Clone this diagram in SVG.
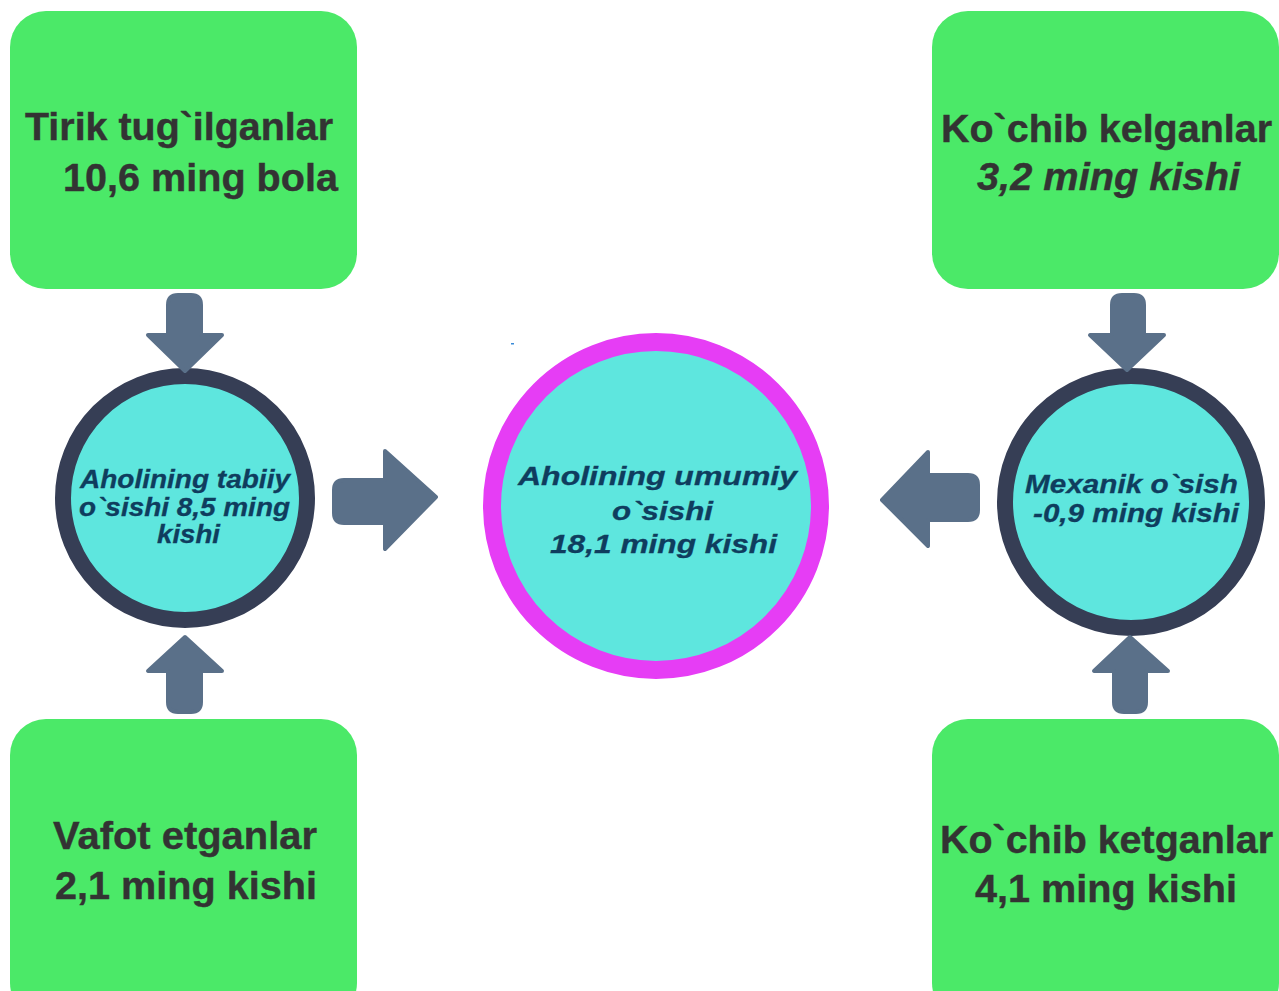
<svg xmlns="http://www.w3.org/2000/svg" width="1279" height="991" viewBox="0 0 1279 991">
<style>
.box{fill:#4BE968;}
.bt{font-family:"Liberation Sans",Arial,sans-serif;font-weight:bold;font-size:39px;fill:#333333;stroke:#333333;stroke-width:0.4;}
.ring{fill:#5EE6DE;stroke:#363E55;stroke-width:16;}
.ringc{fill:#5EE6DE;stroke:#E63DF5;stroke-width:18;}
.ct{font-family:"Liberation Sans",Arial,sans-serif;font-weight:bold;font-style:italic;font-size:26px;fill:#0F3D5E;stroke:#0F3D5E;stroke-width:0.3;}
.arr{fill:#5A7089;stroke:#5A7089;stroke-width:4;stroke-linejoin:round;}
</style>
<rect width="1279" height="991" fill="#ffffff"/>
<g id="birth">
<rect class="box" x="10" y="11" width="347" height="278" rx="36"/>
<text class="bt" x="25" y="140" textLength="308" lengthAdjust="spacingAndGlyphs">Tirik tug`ilganlar</text>
<text class="bt" x="63" y="191" textLength="275" lengthAdjust="spacingAndGlyphs">10,6 ming bola</text>
</g>
<g id="immig">
<rect class="box" x="932" y="11" width="347" height="278" rx="36"/>
<text class="bt" x="941" y="142" textLength="331" lengthAdjust="spacingAndGlyphs">Ko`chib kelganlar</text>
<text class="bt" x="977" y="190" font-style="italic" textLength="263" lengthAdjust="spacingAndGlyphs">3,2 ming kishi</text>
</g>
<g id="death">
<rect class="box" x="10" y="719" width="347" height="300" rx="36"/>
<text class="bt" x="53" y="849" textLength="264" lengthAdjust="spacingAndGlyphs">Vafot etganlar</text>
<text class="bt" x="55" y="899" textLength="262" lengthAdjust="spacingAndGlyphs">2,1 ming kishi</text>
</g>
<g id="emig">
<rect class="box" x="932" y="719" width="347" height="300" rx="36"/>
<text class="bt" x="940" y="853" textLength="333" lengthAdjust="spacingAndGlyphs">Ko`chib ketganlar</text>
<text class="bt" x="975" y="902" textLength="262" lengthAdjust="spacingAndGlyphs">4,1 ming kishi</text>
</g>
<g id="natural">
<circle class="ring" cx="185" cy="498" r="122"/>
<text class="ct" x="80" y="488" textLength="210" lengthAdjust="spacingAndGlyphs">Aholining tabiiy</text>
<text class="ct" x="79" y="516" textLength="211" lengthAdjust="spacingAndGlyphs">o`sishi 8,5 ming</text>
<text class="ct" x="157" y="543" textLength="63" lengthAdjust="spacingAndGlyphs">kishi</text>
</g>
<g id="total">
<circle class="ringc" cx="656" cy="506" r="164"/>
<text class="ct" font-size="30" x="518" y="485" textLength="279" lengthAdjust="spacingAndGlyphs">Aholining umumiy</text>
<text class="ct" font-size="30" x="612" y="520" textLength="101" lengthAdjust="spacingAndGlyphs">o`sishi</text>
<text class="ct" font-size="30" x="550" y="553" textLength="227" lengthAdjust="spacingAndGlyphs">18,1 ming kishi</text>
<rect x="511" y="343" width="3" height="1.5" fill="#3A8BD8"/>
</g>
<g id="mech">
<circle class="ring" cx="1131" cy="502" r="126"/>
<text class="ct" x="1025" y="493" textLength="213" lengthAdjust="spacingAndGlyphs">Mexanik o`sish</text>
<text class="ct" x="1033" y="522" textLength="206" lengthAdjust="spacingAndGlyphs">-0,9 ming kishi</text>
</g>
<g id="connectors">
<path class="arr" d="M168,305 Q168,295 178,295 H191 Q201,295 201,305 V335 H222 L185,371 L148,335 H168 Z"/>
<path class="arr" d="M1112,305 Q1112,295 1122,295 H1134 Q1144,295 1144,305 V335 H1164 L1127,370 L1090,335 H1112 Z"/>
<path class="arr" d="M168,702 Q168,712 178,712 H191 Q201,712 201,702 V671 H222 L185,637 L148,671 H168 Z"/>
<path class="arr" d="M1114,702 Q1114,712 1124,712 H1136 Q1146,712 1146,702 V671 H1168 L1130,637 L1094,671 H1114 Z"/>
<path class="arr" d="M334,490 Q334,480 344,480 H385 V451 L436,497 L385,549 V523 H344 Q334,523 334,513 Z"/>
<path class="arr" d="M978,485 Q978,475 968,475 H928 V452 L882,500 L928,546 V520 H968 Q978,520 978,510 Z"/>
</g>
</svg>
